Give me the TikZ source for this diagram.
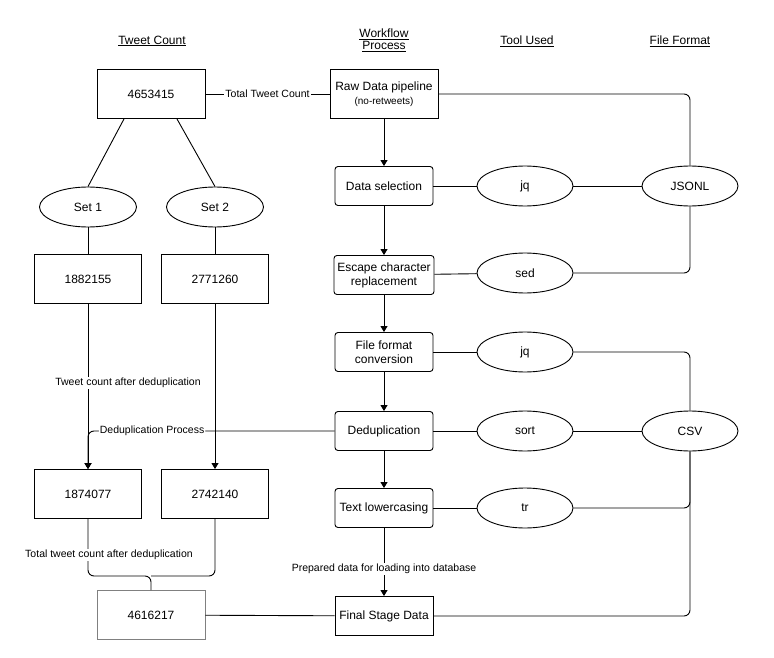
\documentclass[tikz,border=0pt]{standalone}
\usepackage{fontspec}
\setmainfont{Liberation Sans}
\usetikzlibrary{arrows.meta,shapes.geometric}
\begin{document}
\begin{tikzpicture}[x=1pt,y=-1pt, line width=0.9pt,
  box/.style={draw, minimum width=108pt, minimum height=49pt, font=\fontsize{12}{14}\selectfont},
  proc/.style={draw, rounded corners=3pt, minimum width=98pt, minimum height=39pt, align=center, font=\fontsize{12}{14}\selectfont},
  tool/.style={draw, ellipse, minimum width=96pt, minimum height=40pt, font=\fontsize{12}{14}\selectfont},
  lbl/.style={fill=white, inner sep=1pt, font=\fontsize{10.5}{12}\selectfont},
  head/.style={align=center, font=\fontsize{12}{14}\selectfont},
  arr/.style={-{Triangle[length=6pt,width=7pt]}}]
\useasboundingbox (0,0) rectangle (774,658);

% headings
\node[head] (h1) at (152,41) {\underline{Tweet Count}};
\node[head] (h2) at (384,40) {\underline{Workflow}\\[-2pt]\underline{Process}};
\node[head] (h3) at (527,41) {\underline{Tool Used}};
\node[head] (h4) at (680,41) {\underline{File Format}};

% workflow
\node[box] (raw) at (384,94) {};
\node[font=\fontsize{12}{14}\selectfont] (rawa) at (384,87) {Raw Data pipeline};
\node[font=\fontsize{10}{12}\selectfont] (rawb) at (384,102) {(no-retweets)};
\node[proc] (sel) at (384,186) {Data selection};
\node[proc] (esc) at (384,275) {Escape character\\replacement};
\node[proc] (conv) at (384,352) {File format\\conversion};
\node[proc] (dedup) at (384,431) {Deduplication};
\node[proc] (lower) at (384,508) {Text lowercasing};
\node[proc, rounded corners=0pt] (final) at (384,616) {Final Stage Data};

% tools
\node[tool] (jq1) at (525,186) {jq};
\node[tool] (sed) at (525,273) {sed};
\node[tool] (jq2) at (525,352) {jq};
\node[tool] (sort) at (525,431) {sort};
\node[tool] (tr) at (525,508) {tr};

% formats
\node[tool] (jsonl) at (690,186) {JSONL};
\node[tool] (csv) at (690,431) {CSV};

% counts
\node[box] (total) at (151,94) {4653415};
\node[tool, minimum width=97pt] (set1) at (88,207) {Set 1};
\node[tool, minimum width=97pt] (set2) at (215,207) {Set 2};
\node[box, minimum width=107pt] (c1) at (88,279) {1882155};
\node[box, minimum width=107pt] (c2) at (215,279) {2771260};
\node[box, minimum width=107pt] (d1) at (88,494) {1874077};
\node[box, minimum width=107pt] (d2) at (215,494) {2742140};
\node[box, draw=gray] (sum) at (151,615) {4616217};
\coordinate (join) at (151,576);

% workflow arrows
\draw[arr] (raw) -- (sel);
\draw[arr] (sel) -- (esc);
\draw[arr] (esc) -- (conv);
\draw[arr] (conv) -- (dedup);
\draw[arr] (dedup) -- (lower);
\draw[arr] (lower) -- node[lbl, pos=0.6] {Prepared data for loading into database} (final);

% tools and formats
\draw (sel) -- (jq1) -- (jsonl);
\draw (sort) -- (dedup);
\draw (sort) -- (csv);
\draw (lower) -- (tr);
\draw[rounded corners=6pt] (raw.east) -| (jsonl.north);
\draw[rounded corners=6pt] (esc) -- (sed) -| (jsonl.south);
\draw (conv) -- (jq2);
\draw[rounded corners=6pt] (jq2) -| (csv.north);
\draw[rounded corners=6pt] (tr) -| (csv.south);
\draw[rounded corners=6pt] (final) -| (csv.south);

% counts
\draw (total) -- node[lbl] {Total Tweet Count} (raw);
\draw (total.south -| 124,0) -- (set1.north);
\draw (total.south -| 177,0) -- (set2.north);
\draw (set1) -- (c1);
\draw (set2) -- (c2);
\draw[arr] (c1) -- node[lbl, pos=0.48, xshift=40pt] {Tweet count after deduplication} (d1);
\draw[arr] (c2) -- (d2);
\draw[arr, rounded corners=6pt] (dedup.west) -| node[lbl, pos=0.37] {Deduplication Process} (d1.north);
\draw[rounded corners=6pt] (d1.south) |- (join) -- (sum.north);
\draw[rounded corners=6pt] (d2.south) |- (join);
\node[lbl] (tlbl) at (109,555) {Total tweet count after deduplication};
\draw (sum) -- (final);
\end{tikzpicture}
\end{document}
